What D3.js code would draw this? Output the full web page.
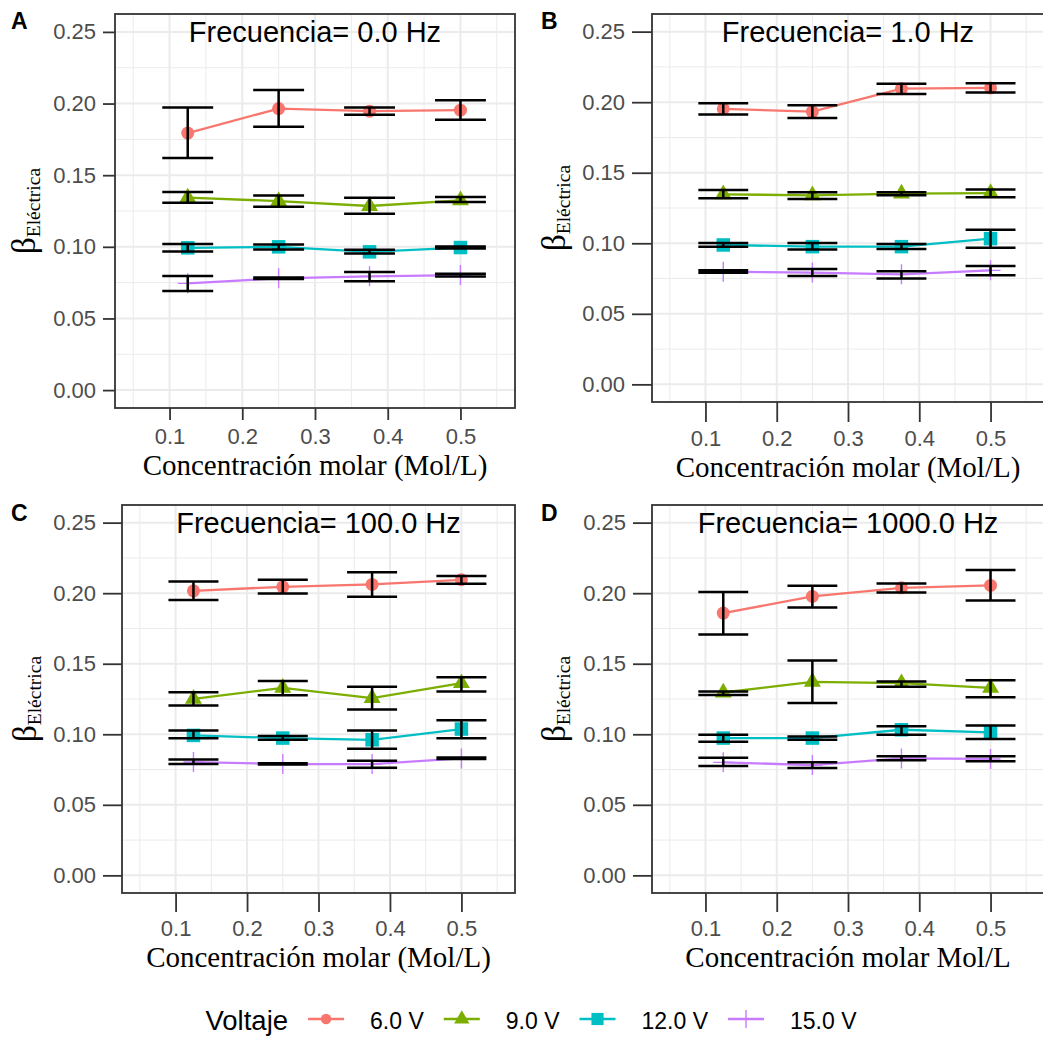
<!DOCTYPE html>
<html>
<head>
<meta charset="utf-8">
<script src="https://cdn.jsdelivr.net/npm/d3@7"></script>
<style>
  html, body { margin: 0; padding: 0; background: #ffffff; }
  svg { display: block; }
</style>
</head>
<body>
<svg id="chart" width="1043" height="1037"></svg>
<script>
// ---- data -------------------------------------------------------------
const concentration = [0.125, 0.25, 0.375, 0.5];
const voltageLabels = ["6.0 V", "9.0 V", "12.0 V", "15.0 V"];
const voltageColors = ["#F8766D", "#7CAE00", "#00BFC4", "#C77CFF"];
const frequencyLabels = ["0.0", "1.0", "100.0", "1000.0"];
const panelTags = ["A", "B", "C", "D"];
const xAxisTitles = [
  "Concentración molar (Mol/L)",
  "Concentración molar (Mol/L)",
  "Concentración molar (Mol/L)",
  "Concentración molar Mol/L"
];
const xTickValues = [0.1, 0.2, 0.3, 0.4, 0.5];
const yTickValues = [0.00, 0.05, 0.10, 0.15, 0.20, 0.25];

// mean β per voltage (rows: 6, 9, 12, 15 V) and concentration (columns)
const betaA = [
  [0.1794, 0.1965, 0.1947, 0.1954],
  [0.1343, 0.1319, 0.1285, 0.1324],
  [0.0993, 0.1000, 0.0965, 0.0995],
  [0.0745, 0.0780, 0.0794, 0.0803]
];
const lowA = [
  [0.1620, 0.1838, 0.1921, 0.1887],
  [0.1308, 0.1280, 0.1231, 0.1313],
  [0.0968, 0.0981, 0.0954, 0.0988],
  [0.0692, 0.0775, 0.0759, 0.0792]
];
const highA = [
  [0.1972, 0.2095, 0.1972, 0.2023],
  [0.1382, 0.1359, 0.1343, 0.1347],
  [0.1019, 0.1016, 0.0979, 0.1002],
  [0.0796, 0.0785, 0.0824, 0.0812]
];

const betaB = [
  [0.1952, 0.1933, 0.2096, 0.2101],
  [0.1347, 0.1340, 0.1352, 0.1356],
  [0.0988, 0.0976, 0.0976, 0.1033],
  [0.0799, 0.0792, 0.0780, 0.0808]
];
const lowB = [
  [0.1912, 0.1888, 0.2058, 0.2068],
  [0.1319, 0.1314, 0.1340, 0.1326],
  [0.0976, 0.0955, 0.0959, 0.0969],
  [0.0791, 0.0768, 0.0751, 0.0773]
];
const highB = [
  [0.1992, 0.1978, 0.2131, 0.2134],
  [0.1378, 0.1361, 0.1361, 0.1382],
  [0.1002, 0.1002, 0.0995, 0.1096],
  [0.0808, 0.0818, 0.0801, 0.0839]
];

const betaC = [
  [0.2017, 0.2045, 0.2062, 0.2095],
  [0.1251, 0.1329, 0.1256, 0.1362],
  [0.0992, 0.0973, 0.0961, 0.1037],
  [0.0803, 0.0789, 0.0789, 0.0829]
];
const lowC = [
  [0.1951, 0.1998, 0.1975, 0.2066],
  [0.1204, 0.1277, 0.1176, 0.1303],
  [0.0971, 0.0961, 0.0898, 0.0971],
  [0.0789, 0.0785, 0.0763, 0.0825]
];
const highC = [
  [0.2083, 0.2095, 0.2149, 0.2121],
  [0.1298, 0.1378, 0.1336, 0.1404],
  [0.1027, 0.0987, 0.1027, 0.1100],
  [0.0822, 0.0794, 0.0813, 0.0836]
];

const betaD = [
  [0.1859, 0.1977, 0.2038, 0.2055],
  [0.1296, 0.1371, 0.1362, 0.1329],
  [0.0973, 0.0973, 0.1032, 0.1013],
  [0.0801, 0.0782, 0.0829, 0.0825]
];
const lowD = [
  [0.1708, 0.1899, 0.2005, 0.1949],
  [0.1279, 0.1221, 0.1336, 0.1263],
  [0.0947, 0.0961, 0.0997, 0.0966],
  [0.0775, 0.0761, 0.0815, 0.0808]
];
const highD = [
  [0.2008, 0.2052, 0.2069, 0.2165],
  [0.1303, 0.1522, 0.1374, 0.1383],
  [0.0997, 0.0985, 0.1056, 0.1063],
  [0.0834, 0.0801, 0.0844, 0.0844]
];

const panelMeans = [betaA, betaB, betaC, betaD];
const panelLows = [lowA, lowB, lowC, lowD];
const panelHighs = [highA, highB, highC, highD];

// ---- layout ------------------------------------------------------------
const layout = [
  { left: 115, top: 14,  width: 400, height: 394, tick: 12, tagX: 11,  tagY: 29,  yTitleX: 35 },
  { left: 652, top: 14,  width: 392, height: 388, tick: 20, tagX: 541, tagY: 29,  yTitleX: 565 },
  { left: 122, top: 505, width: 393, height: 388, tick: 19, tagX: 11,  tagY: 521, yTitleX: 36 },
  { left: 652, top: 505, width: 392, height: 388, tick: 19, tagX: 541, tagY: 521, yTitleX: 565 }
];

const X_DOMAIN = [0.025, 0.575];
const Y_DOMAIN = [-0.0125, 0.2625];
const ERR_HALF = 0.035;
const SANS = "'Liberation Sans', Arial, Helvetica, sans-serif";
const SERIF = "'Liberation Serif', 'Times New Roman', serif";
const GRID = "#EBEBEB";
const DARK = "#333333";
const TICK_TEXT = "#4D4D4D";

const svg = d3.select("#chart");
svg.append("rect").attr("width", 1043).attr("height", 1037).attr("fill", "#ffffff");

// point glyphs for each voltage series
function drawGlyph(sel, k, cx, cy, color, scale) {
  const s = scale || 1;
  if (k === 0) {
    sel.append("circle").attr("cx", cx).attr("cy", cy).attr("r", 6.5 * s).attr("fill", color);
  } else if (k === 1) {
    const side = 17 * s, h = side * Math.sqrt(3) / 2;
    const p = d3.path();
    p.moveTo(cx, cy - 2 * h / 3);
    p.lineTo(cx + side / 2, cy + h / 3);
    p.lineTo(cx - side / 2, cy + h / 3);
    p.closePath();
    sel.append("path").attr("d", p.toString()).attr("fill", color);
  } else if (k === 2) {
    const a = 13.5 * s;
    sel.append("rect").attr("x", cx - a / 2).attr("y", cy - a / 2)
      .attr("width", a).attr("height", a).attr("fill", color);
  } else {
    const a = 10 * s;
    const p = d3.path();
    p.moveTo(cx - a, cy); p.lineTo(cx + a, cy);
    p.moveTo(cx, cy - a); p.lineTo(cx, cy + a);
    sel.append("path").attr("d", p.toString()).attr("stroke", color)
      .attr("stroke-width", 1.4).attr("fill", "none");
  }
}

function minorTicks(majors, domain) {
  const step = majors[1] - majors[0];
  const vals = majors.map(v => v - step / 2).concat([majors[majors.length - 1] + step / 2]);
  return vals.filter(v => v > domain[0] && v < domain[1]);
}

layout.forEach((p, i) => {
  const x = d3.scaleLinear().domain(X_DOMAIN).range([p.left, p.left + p.width]);
  const y = d3.scaleLinear().domain(Y_DOMAIN).range([p.top + p.height, p.top]);
  const g = svg.append("g");
  const clipId = "panel-clip-" + i;
  svg.append("clipPath").attr("id", clipId).append("rect")
    .attr("x", p.left).attr("y", p.top).attr("width", p.width).attr("height", p.height);
  const inner = g.append("g").attr("clip-path", `url(#${clipId})`);

  // grid
  const xMinor = minorTicks(xTickValues, X_DOMAIN);
  const yMinor = minorTicks(yTickValues, Y_DOMAIN);
  inner.selectAll(".gx-minor").data(xMinor).enter().append("line")
    .attr("x1", d => x(d)).attr("x2", d => x(d)).attr("y1", p.top).attr("y2", p.top + p.height)
    .attr("stroke", GRID).attr("stroke-width", 1);
  inner.selectAll(".gy-minor").data(yMinor).enter().append("line")
    .attr("y1", d => y(d)).attr("y2", d => y(d)).attr("x1", p.left).attr("x2", p.left + p.width)
    .attr("stroke", GRID).attr("stroke-width", 1);
  inner.selectAll(".gx-major").data(xTickValues).enter().append("line")
    .attr("x1", d => x(d)).attr("x2", d => x(d)).attr("y1", p.top).attr("y2", p.top + p.height)
    .attr("stroke", GRID).attr("stroke-width", 2);
  inner.selectAll(".gy-major").data(yTickValues).enter().append("line")
    .attr("y1", d => y(d)).attr("y2", d => y(d)).attr("x1", p.left).attr("x2", p.left + p.width)
    .attr("stroke", GRID).attr("stroke-width", 2);

  const means = panelMeans[i], lows = panelLows[i], highs = panelHighs[i];

  // series lines
  const line = d3.line().x(d => x(d[0])).y(d => y(d[1]));
  means.forEach((row, k) => {
    inner.append("path")
      .attr("d", line(concentration.map((c, j) => [c, row[j]])))
      .attr("fill", "none").attr("stroke", voltageColors[k]).attr("stroke-width", 2.3);
  });

  // points
  means.forEach((row, k) => {
    row.forEach((v, j) => drawGlyph(inner, k, x(concentration[j]), y(v), voltageColors[k]));
  });

  // error bars
  means.forEach((row, k) => {
    row.forEach((v, j) => {
      const c = concentration[j];
      const lo = lows[k][j], hi = highs[k][j];
      const eb = d3.path();
      eb.moveTo(x(c - ERR_HALF), y(hi)); eb.lineTo(x(c + ERR_HALF), y(hi));
      eb.moveTo(x(c), y(hi)); eb.lineTo(x(c), y(lo));
      eb.moveTo(x(c - ERR_HALF), y(lo)); eb.lineTo(x(c + ERR_HALF), y(lo));
      inner.append("path").attr("d", eb.toString()).attr("fill", "none")
        .attr("stroke", "#000000").attr("stroke-width", 2.5);
    });
  });

  // frequency annotation
  inner.append("text")
    .attr("x", x(0.3)).attr("y", y(0.25) + 10.5)
    .attr("text-anchor", "middle").attr("font-family", SANS).attr("font-size", 29)
    .attr("fill", "#000000")
    .text("Frecuencia= " + frequencyLabels[i] + " Hz");

  // panel border
  g.append("rect").attr("x", p.left).attr("y", p.top).attr("width", p.width).attr("height", p.height)
    .attr("fill", "none").attr("stroke", DARK).attr("stroke-width", 1.8);

  // axes
  const yAxis = d3.axisLeft(y).tickValues(yTickValues).tickSize(p.tick).tickPadding(7)
    .tickFormat(d3.format(".2f"));
  const xAxis = d3.axisBottom(x).tickValues(xTickValues).tickSize(p.tick).tickPadding(8)
    .tickFormat(d3.format(".1f"));
  const ya = g.append("g").attr("transform", `translate(${p.left},0)`).call(yAxis);
  const xa = g.append("g").attr("transform", `translate(0,${p.top + p.height})`).call(xAxis);
  [ya, xa].forEach(a => {
    a.select(".domain").remove();
    a.selectAll(".tick line").attr("stroke", DARK).attr("stroke-width", 1.8);
    a.selectAll(".tick text").attr("fill", TICK_TEXT).attr("font-family", SANS).attr("font-size", 22);
  });

  // axis titles
  g.append("text")
    .attr("x", p.left + p.width / 2).attr("y", p.top + p.height + p.tick + 55)
    .attr("text-anchor", "middle").attr("font-family", SERIF).attr("font-size", 29)
    .attr("fill", "#000000").text(xAxisTitles[i]);

  const yt = g.append("text")
    .attr("transform", `translate(${p.yTitleX},${p.top + p.height / 2}) rotate(-90)`)
    .attr("text-anchor", "middle").attr("font-family", SERIF).attr("fill", "#000000");
  yt.append("tspan").attr("font-size", 33).text("β");
  yt.append("tspan").attr("font-size", 19.5).attr("dy", 5).text("Eléctrica");

  // panel tag
  svg.append("text").attr("x", p.tagX).attr("y", p.tagY)
    .attr("font-family", SANS).attr("font-weight", "bold").attr("font-size", 23)
    .attr("fill", "#000000").text(panelTags[i]);
});

// ---- legend ------------------------------------------------------------
const legend = svg.append("g");
const legendY = 1019;
const title = legend.append("text").attr("x", 0).attr("y", 1029.5)
  .attr("font-family", SANS).attr("font-size", 27.5).attr("fill", "#000000").text("Voltaje");
let cursor = title.node().getComputedTextLength() + 20;
voltageLabels.forEach((lab, k) => {
  legend.append("line").attr("x1", cursor).attr("x2", cursor + 36)
    .attr("y1", legendY).attr("y2", legendY)
    .attr("stroke", voltageColors[k]).attr("stroke-width", 2.6);
  drawGlyph(legend, k, cursor + 18, legendY, voltageColors[k], k === 0 ? 0.8 : 0.9);
  cursor += 36 + 26;
  const t = legend.append("text").attr("x", cursor).attr("y", 1028.5)
    .attr("font-family", SANS).attr("font-size", 23).attr("fill", "#000000").text(lab);
  cursor += t.node().getComputedTextLength() + 20;
});
const legendWidth = cursor - 20;
legend.attr("transform", `translate(${531 - legendWidth / 2},0)`);
</script>
</body>
</html>
